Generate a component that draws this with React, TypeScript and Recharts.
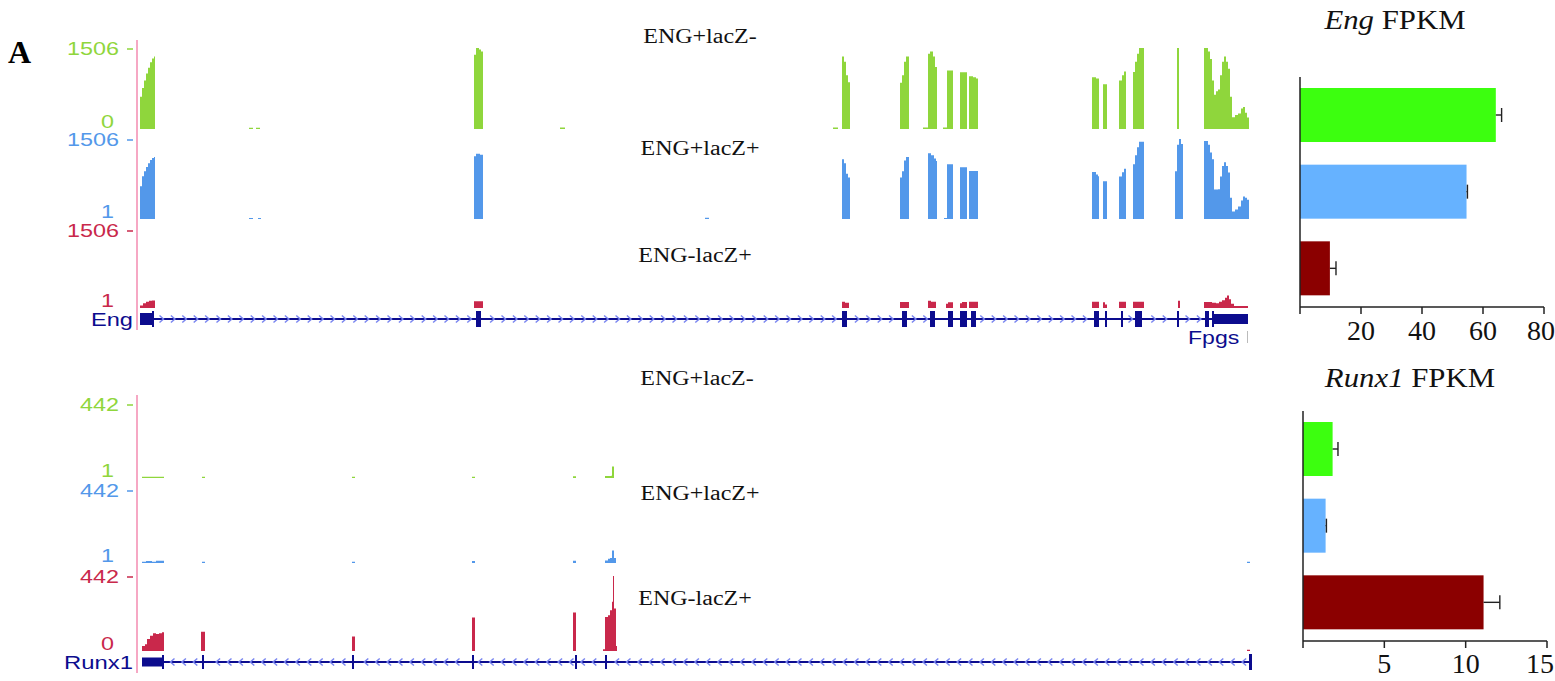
import React from 'react';
import {
  AreaChart,
  Area,
  Line,
  XAxis,
  YAxis,
  ComposedChart,
  ReferenceArea,
  ReferenceLine,
  BarChart,
  Bar,
  Cell,
} from 'recharts';

type Pt = [number, number];
type Exon = [number, number, number];

// ---------- coverage tracks (genomic position in view units, read coverage) ----------
const engGreen: Pt[] = [
  [138, 0],
  [140, 600], [142, 760], [144, 900], [146, 1030], [148, 1140], [150, 1240], [152, 1310], [154, 1346], [155, 0],
  [249, 25], [253, 0], [256, 25], [260, 0],
  [474, 1380], [476, 1506], [479, 1480], [481, 1440], [483, 0],
  [560, 30], [565, 0],
  [833, 30], [838, 0],
  [842, 1346], [844, 1250], [846, 1000], [848, 870], [850, 0],
  [900, 862], [902, 1000], [904, 1250], [906, 1346], [909, 0],
  [923, 30], [928, 1400], [930, 1442], [933, 1350], [935, 1152], [937, 0],
  [943, 30], [947, 1087], [953, 0],
  [960, 1056], [967, 0],
  [969, 980], [973, 960], [976, 940], [978, 0],
  [1092, 960], [1096, 940], [1099, 0],
  [1103, 830], [1107, 0],
  [1119, 900], [1122, 1000], [1124, 1068], [1126, 0],
  [1133, 1062], [1135, 1250], [1137, 1400], [1139, 1506], [1144, 0],
  [1177, 1506], [1179, 0],
  [1204, 1506], [1208, 1440], [1210, 1300], [1212, 900], [1214, 637], [1216, 700], [1218, 733], [1220, 1000],
  [1222, 1250], [1224, 1346], [1226, 1250], [1228, 1120], [1230, 600], [1232, 218], [1235, 260], [1238, 290],
  [1241, 380], [1243, 411], [1245, 300], [1247, 212], [1249, 0],
];

const engBlue: Pt[] = [
  [138, 0],
  [140, 616], [142, 806], [144, 900], [146, 980], [148, 1050], [150, 1110], [152, 1150], [154, 1169], [155, 0],
  [249, 20], [253, 0], [258, 20], [261, 0],
  [474, 1180], [476, 1230], [480, 1210], [483, 0],
  [705, 25], [709, 0],
  [842, 1125], [844, 1050], [846, 850], [848, 780], [850, 0],
  [900, 780], [902, 900], [904, 1100], [906, 1169], [909, 0],
  [928, 1240], [931, 1200], [934, 1140], [936, 1092], [937, 0],
  [944, 20], [947, 1030], [953, 0],
  [960, 972], [967, 0],
  [969, 902], [978, 0],
  [1092, 883], [1096, 840], [1098, 806], [1099, 0],
  [1103, 711], [1107, 0],
  [1119, 800], [1122, 880], [1124, 947], [1126, 0],
  [1133, 1030], [1135, 1200], [1137, 1350], [1139, 1455], [1144, 0],
  [1175, 900], [1177, 1400], [1179, 1506], [1181, 1410], [1183, 0],
  [1204, 1468], [1208, 1400], [1210, 1250], [1212, 1125], [1214, 553], [1218, 560], [1220, 800], [1222, 1000],
  [1224, 1068], [1226, 1000], [1228, 877], [1230, 400], [1232, 139], [1235, 180], [1238, 234], [1241, 350],
  [1243, 425], [1245, 400], [1247, 362], [1249, 0],
];

const engRed: Pt[] = [
  [138, 0],
  [140, 50], [143, 90], [146, 120], [149, 140], [152, 145], [155, 0],
  [474, 130], [483, 0],
  [842, 120], [845, 100], [849, 0],
  [900, 115], [909, 0],
  [928, 140], [931, 120], [936, 0],
  [946, 80], [948, 110], [953, 0],
  [960, 90], [962, 115], [967, 0],
  [969, 120], [978, 0],
  [1092, 120], [1099, 0],
  [1103, 110], [1105, 70], [1107, 0],
  [1119, 120], [1126, 0],
  [1133, 120], [1144, 0],
  [1178, 140], [1180, 0],
  [1204, 115], [1212, 100], [1216, 90], [1219, 120], [1222, 150], [1225, 200], [1227, 240], [1229, 170],
  [1231, 80], [1234, 40], [1248, 0],
];

const runxGreen: Pt[] = [
  [138, 0],
  [142, 8], [164, 0],
  [202, 8], [205, 0],
  [352, 8], [355, 0],
  [472, 8], [475, 0],
  [573, 10], [576, 0],
  [605, 12], [611, 14], [612, 68], [614, 0],
];

const runxBlue: Pt[] = [
  [138, 0],
  [142, 8], [146, 12], [152, 8], [156, 14], [164, 0],
  [202, 8], [205, 0],
  [352, 8], [355, 0],
  [472, 12], [475, 0],
  [573, 14], [576, 0],
  [605, 15], [608, 25], [610, 30], [612, 75], [614, 30], [616, 0],
  [1247, 8], [1250, 0],
];

const runxRed: Pt[] = [
  [138, 0],
  [142, 30], [145, 40], [147, 70], [150, 90], [153, 105], [156, 100], [159, 105], [162, 110], [164, 0],
  [201, 113], [205, 0],
  [352, 85], [355, 0],
  [472, 197], [475, 0],
  [573, 227], [576, 0],
  [603, 10], [605, 200], [608, 210], [610, 240], [612, 290], [613, 442], [614, 250], [616, 30], [617, 0],
  [1247, 8], [1250, 0],
];

// ---------- gene models: [start, end, half-height] ----------
const engExons: Exon[] = [
  [140, 152, 6], [152, 154, 8], [476, 481, 8], [842, 847, 8], [902, 907, 8], [930, 935, 8],
  [948, 953, 8], [960, 967, 8], [971, 976, 8], [1094, 1099, 8], [1105, 1107, 8], [1121, 1123, 8],
  [1135, 1142, 8], [1177, 1179, 8], [1205, 1209, 8], [1212, 1214, 8], [1214, 1248, 5],
];
const engIntron: Pt = [154, 1214];

const runxExons: Exon[] = [
  [142, 162, 4.5], [162, 164, 7], [202, 204, 7], [352, 354, 7], [472, 474, 7],
  [575, 577, 7], [605, 607, 7], [1249, 1252, 8],
];
const runxIntron: Pt = [164, 1250];

// ---------- FPKM bar charts ----------
const fpkmGroups = ['ENG+lacZ-', 'ENG+lacZ+', 'ENG-lacZ+'];
const engFpkm = [64.2, 54.6, 9.8];
const engFpkmErr = [1.9, 0.3, 2.0];
const runxFpkm = [1.82, 1.39, 11.1];
const runxFpkmErr = [0.33, 0.05, 1.0];
const engTicks = [0, 20, 40, 60, 80];
const runxTicks = [0, 5, 10, 15];

// ---------- styles ----------
const GREEN = '#8fd63c';
const BLUE = '#5398ea';
const RED = '#c9284b';
const NAVY = '#0c0c8e';
const CHEV = '#7a86f0';
const PINK = '#f6a8c4';
const BAR_COLORS = ['#3cff0f', '#66b2ff', '#8b0000'];
const SANS = '"Liberation Sans", Arial, sans-serif';
const SERIF = '"Liberation Serif", "Times New Roman", serif';

const toData = (pts: Pt[]) => pts.map(([pos, v]) => ({ pos, v }));

const TrackTick = (props: any) => {
  const { y, payload, color, max, minLabel } = props;
  const isMax = payload.value === max;
  const maxStr = String(max);
  if (isMax) {
    return (
      <g>
        <text x={119} y={y + 7} textAnchor="end" fill={color} fontFamily={SANS} fontSize={19}
          textLength={maxStr.length * 13} lengthAdjust="spacingAndGlyphs">
          {maxStr}
        </text>
        <line x1={127} x2={133} y1={y + 1} y2={y + 1} stroke={color} strokeWidth={1.5} />
      </g>
    );
  }
  return (
    <text x={114} y={y - 1} textAnchor="end" fill={color} fontFamily={SANS} fontSize={19}
      textLength={minLabel.length * 13} lengthAdjust="spacingAndGlyphs">
      {minLabel}
    </text>
  );
};

function Track(props: { data: Pt[]; color: string; max: number; minLabel: string; top: number; base: number }) {
  const { data, color, max, minLabel, top, base } = props;
  const padT = 12;
  const padB = 12;
  const h = base - top + padT + padB;
  return (
    <div style={{ position: 'absolute', left: 0, top: top - padT, width: 1252, height: h }}>
      <AreaChart width={1252} height={h} data={toData(data)} margin={{ top: padT, bottom: padB, left: 0, right: 2 }}>
        <XAxis type="number" dataKey="pos" domain={[138, 1250]} hide allowDataOverflow />
        <YAxis
          type="number"
          domain={[0, max]}
          ticks={[0, max]}
          interval={0}
          width={138}
          axisLine={false}
          tickLine={false}
          allowDataOverflow
          tick={(p: any) => <TrackTick {...p} color={color} max={max} minLabel={minLabel} />}
        />
        <Area
          type="stepAfter"
          dataKey="v"
          stroke="none"
          fill={color}
          fillOpacity={1}
          isAnimationActive={false}
          dot={false}
          activeDot={false}
        />
      </AreaChart>
    </div>
  );
}

function Gene(props: { exons: Exon[]; intron: Pt; name: string; nameWidth: number; y: number; dir: number }) {
  const { exons, intron, name, nameWidth, y, dir } = props;
  const shape = (p: any) => {
    const { x1, x2, y1 } = p;
    if (x1 == null || x2 == null) return <g />;
    const k = (x2 - x1) / (intron[1] - intron[0]);
    const toPx = (v: number) => x1 + (v - intron[0]) * k;
    const inExon = (px: number) => exons.some(([s, e]) => px > toPx(s) - 4 && px < toPx(e) + 4);
    const chevrons: React.ReactNode[] = [];
    for (let cx = x1 + 8; cx < x2 - 4; cx += 11.4) {
      if (inExon(cx)) continue;
      const d =
        dir > 0
          ? `M${cx - 2.5},${y1 - 3.5} L${cx + 1.5},${y1} L${cx - 2.5},${y1 + 3.5}`
          : `M${cx + 2.5},${y1 - 3.5} L${cx - 1.5},${y1} L${cx + 2.5},${y1 + 3.5}`;
      chevrons.push(<path key={cx} d={d} stroke={CHEV} strokeWidth={1.5} fill="none" />);
    }
    return (
      <g>
        <line x1={x1} x2={x2} y1={y1} y2={y1} stroke={NAVY} strokeWidth={2} />
        {chevrons}
      </g>
    );
  };
  const data = [{ pos: 138, v: 0 }, { pos: 1252, v: 0 }];
  return (
    <div style={{ position: 'absolute', left: 0, top: y - 12, width: 1252, height: 24 }}>
      <ComposedChart width={1252} height={24} data={data} margin={{ top: 2, bottom: 2, left: 0, right: 0 }}>
        <XAxis type="number" dataKey="pos" domain={[138, 1252]} hide allowDataOverflow />
        <YAxis
          type="number"
          domain={[-10, 10]}
          ticks={[0]}
          interval={0}
          width={138}
          axisLine={false}
          tickLine={false}
          allowDataOverflow
          tick={(p: any) => (
            <text x={133} y={p.y + 7} textAnchor="end" fill={NAVY} fontFamily={SANS} fontSize={19}
              textLength={nameWidth} lengthAdjust="spacingAndGlyphs">
              {name}
            </text>
          )}
        />
        <Line dataKey="v" stroke="none" dot={false} activeDot={false} isAnimationActive={false} />
        <ReferenceLine segment={[{ x: intron[0], y: 0 }, { x: intron[1], y: 0 }]} shape={shape} ifOverflow="visible" />
        {exons.map(([s, e, hh], i) => (
          <ReferenceArea key={i} x1={s} x2={e} y1={-hh} y2={hh} fill={NAVY} fillOpacity={1} stroke="none" ifOverflow="visible" />
        ))}
      </ComposedChart>
    </div>
  );
}

const BarWithErr = (p: any) => {
  const { x, y, width, height, payload, fill } = p;
  const errPx = payload.value > 0 ? (width * payload.err) / payload.value : 0;
  const cy = y + height / 2;
  const xe = x + width + errPx;
  return (
    <g>
      <rect x={x} y={y} width={width} height={height} fill={fill} />
      <line x1={x + width} x2={xe} y1={cy} y2={cy} stroke="#222" strokeWidth={1.4} />
      <line x1={xe} x2={xe} y1={cy - 7} y2={cy + 7} stroke="#222" strokeWidth={1.4} />
    </g>
  );
};

function Fpkm(props: {
  values: number[]; errs: number[]; ticks: number[]; left: number; top: number; width: number; right: number; labelDy: number; lastShift: number;
}) {
  const { values, errs, ticks, left, top, width, right, labelDy, lastShift } = props;
  const data = fpkmGroups.map((g, i) => ({ group: g, value: values[i], err: errs[i] }));
  const height = 300;
  const last = ticks[ticks.length - 1];
  return (
    <div style={{ position: 'absolute', left, top, width, height }}>
      <BarChart layout="vertical" width={width} height={height} data={data} margin={{ top: 16, right, bottom: 14, left: 0 }} barSize={54}>
        <XAxis
          type="number"
          domain={[ticks[0], last]}
          ticks={ticks}
          interval={0}
          height={40}
          tickSize={7}
          axisLine={{ stroke: '#222', strokeWidth: 1.5 }}
          tickLine={{ stroke: '#222', strokeWidth: 1.5 }}
          tick={(t: any) =>
            t.payload.value === 0 ? (
              <g />
            ) : (
              <text x={t.payload.value === last ? t.x + lastShift : t.x} y={t.y + labelDy} textAnchor="middle" fill="#111" fontFamily={SERIF} fontSize={28}>
                {t.payload.value}
              </text>
            )
          }
        />
        <YAxis
          type="category"
          dataKey="group"
          width={50}
          tick={false}
          tickSize={5}
          axisLine={{ stroke: '#222', strokeWidth: 1.5 }}
          tickLine={{ stroke: '#222', strokeWidth: 1.5 }}
        />
        <Bar dataKey="value" isAnimationActive={false} shape={BarWithErr}>
          {data.map((d, i) => (
            <Cell key={d.group} fill={BAR_COLORS[i]} />
          ))}
        </Bar>
      </BarChart>
    </div>
  );
}

const labelStyle = (cx: number, cy: number, size: number, stretch: number): React.CSSProperties => ({
  position: 'absolute',
  left: cx - 150,
  top: cy - size * 0.6,
  width: 300,
  textAlign: 'center',
  fontFamily: SERIF,
  fontSize: size,
  lineHeight: `${size * 1.2}px`,
  color: '#111',
  whiteSpace: 'nowrap',
  transform: `scaleX(${stretch})`,
  transformOrigin: 'center',
});

export default function App() {
  return (
    <div style={{ position: 'absolute', left: 0, top: 0, width: 1555, height: 681, background: '#fff', overflow: 'hidden' }}>
      <div style={{ position: 'absolute', left: 8, top: 33, fontFamily: SERIF, fontWeight: 'bold', fontSize: 32, lineHeight: '38px' }}>A</div>

      <div style={{ position: 'absolute', left: 136, top: 40, width: 2, height: 290, background: PINK }} />
      <div style={{ position: 'absolute', left: 136, top: 395, width: 2, height: 278, background: PINK }} />

      <div style={labelStyle(700, 36, 20, 1.2)}>{fpkmGroups[0]}</div>
      <div style={labelStyle(700, 148, 20, 1.2)}>{fpkmGroups[1]}</div>
      <div style={labelStyle(695, 255, 20, 1.2)}>{fpkmGroups[2]}</div>
      <div style={labelStyle(697, 378, 20, 1.2)}>{fpkmGroups[0]}</div>
      <div style={labelStyle(700, 493, 20, 1.2)}>{fpkmGroups[1]}</div>
      <div style={labelStyle(695, 598, 20, 1.2)}>{fpkmGroups[2]}</div>

      <Track data={engGreen} color={GREEN} max={1506} minLabel="0" top={48} base={129} />
      <Track data={engBlue} color={BLUE} max={1506} minLabel="1" top={139} base={219} />
      <Track data={engRed} color={RED} max={1506} minLabel="1" top={230} base={308} />
      <Gene exons={engExons} intron={engIntron} name="Eng" nameWidth={42} y={319} dir={1} />
      <div style={{ position: 'absolute', left: 1188, top: 328, fontFamily: SANS, fontSize: 18, lineHeight: '21px', color: NAVY, transform: 'scaleX(1.28)', transformOrigin: 'left' }}>Fpgs</div>
      <div style={{ position: 'absolute', left: 1247, top: 331, width: 1, height: 12, background: '#bbb' }} />

      <Track data={runxGreen} color={GREEN} max={442} minLabel="1" top={404} base={478} />
      <Track data={runxBlue} color={BLUE} max={442} minLabel="1" top={490} base={563} />
      <Track data={runxRed} color={RED} max={442} minLabel="0" top={576} base={651} />
      <Gene exons={runxExons} intron={runxIntron} name="Runx1" nameWidth={69} y={662} dir={-1} />

      <div style={labelStyle(1395, 20, 28, 1.1)}>
        <i>Eng</i> FPKM
      </div>
      <div style={labelStyle(1410, 378, 28, 1.1)}>
        <i>Runx1</i> FPKM
      </div>

      <Fpkm values={engFpkm} errs={engFpkmErr} ticks={engTicks} left={1250} top={61} width={305} right={11} labelDy={24} lastShift={-3} />
      <Fpkm values={runxFpkm} errs={runxFpkmErr} ticks={runxTicks} left={1253} top={395} width={302} right={8} labelDy={23} lastShift={-7} />
    </div>
  );
}
